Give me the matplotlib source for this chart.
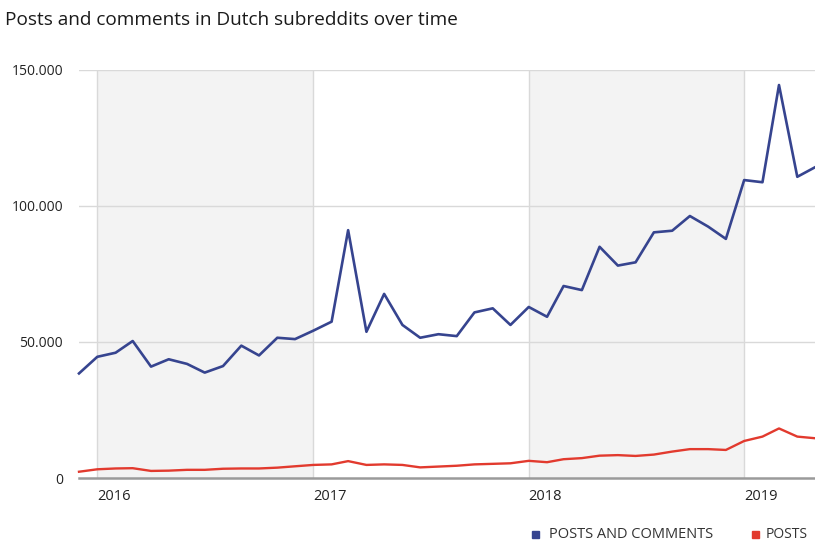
import numpy as np
import pandas as pd
import matplotlib
matplotlib.use("Agg")
import matplotlib.pyplot as plt
import matplotlib.transforms as mtransforms

plt.rcParams['font.family'] = ['Open Sans', 'DejaVu Sans']

# maandelijkse data, dec 2015 t/m mei 2019
months = pd.date_range("2015-12-01", "2019-05-01", freq="MS")

posts_and_comments = [
    38400, 44500, 46000, 50300, 40900, 43600, 41900, 38700, 41100, 48600, 45000, 51500,
    51000, 54100, 57400, 91000, 53700, 67600, 56200, 51500, 52800, 52100, 60800, 62300,
    56200, 62800, 59200, 70500, 69000, 84900, 78000, 79200, 90200, 90800, 96200, 92300,
    87800, 109400, 108600, 144300, 110600, 114100,
]
posts = [
    2300, 3200, 3500, 3600, 2600, 2700, 3000, 3000, 3400, 3500, 3500, 3800,
    4300, 4800, 5000, 6200, 4800, 5000, 4800, 3900, 4200, 4500, 5000, 5200,
    5400, 6300, 5800, 6900, 7300, 8200, 8400, 8100, 8600, 9700, 10600, 10600,
    10300, 13600, 15200, 18200, 15200, 14600,
]
years = [2016, 2017, 2018, 2019]
y_ticks = [0, 50000, 100000, 150000]
y_labels = ["0", "50.000", "100.000", "150.000"]

blue = "#36448f"
red = "#e23a2e"

fig = plt.figure(figsize=(8.15, 5.47), dpi=100)
ax = fig.add_axes([79 / 815, 1 - 478 / 547, 736 / 815, 408.5 / 547])

# grijze banden voor 2016 en 2018
for y in [2016, 2018]:
    ax.axvspan(pd.Timestamp(f"{y}-01-01"), pd.Timestamp(f"{y + 1}-01-01"),
               color="#f3f3f3", zorder=0, lw=0)

for y in years:
    ax.axvline(pd.Timestamp(f"{y}-01-01"), color="#d9d9d9", lw=1, zorder=1)
for v in y_ticks[1:]:
    ax.axhline(v, color="#d9d9d9", lw=1, zorder=1)
ax.axhline(0, color="#9a9a9a", lw=1.8, zorder=3, clip_on=False)

ax.plot(months, posts_and_comments, color=blue, lw=1.9, zorder=4, clip_on=False)
ax.plot(months, posts, color=red, lw=1.7, zorder=4, clip_on=False)

ax.set_xlim(months[0], months[-1])
ax.set_ylim(0, 150000)
ax.set_yticks(y_ticks)
ax.set_yticklabels(y_labels, fontsize=10, color="#222222")
ax.set_xticks([pd.Timestamp(f"{y}-01-01") for y in years])
ax.set_xticklabels([str(y) for y in years], fontsize=10.5, color="#222222")
offset = mtransforms.ScaledTranslation(1 / 100, 0, fig.dpi_scale_trans)
for lbl in ax.get_xticklabels():
    lbl.set_ha("left")
    lbl.set_transform(lbl.get_transform() + offset)
ax.tick_params(axis="both", length=0)
ax.tick_params(axis="y", pad=11.5)
ax.tick_params(axis="x", pad=8)
for s in ax.spines.values():
    s.set_visible(False)

fig.text(5 / 815, 1 - 20 / 547, "Posts and comments in Dutch subreddits over time",
         fontsize=13.7, color="#1a1a1a", va="center", ha="left")

# legenda (rechts afgesneden in het origineel)
ly = 1 - 534 / 547
fig.patches.append(plt.Rectangle((532 / 815, ly - 3.5 / 547), 7 / 815, 7 / 547,
                                 transform=fig.transFigure, color=blue))
fig.text(549 / 815, ly, "POSTS AND COMMENTS", fontsize=10.5, color="#333333",
         va="center", ha="left")
fig.patches.append(plt.Rectangle((752 / 815, ly - 3.5 / 547), 7 / 815, 7 / 547,
                                 transform=fig.transFigure, color=red))
fig.text(766 / 815, ly, "POSTS", fontsize=10, color="#333333",
         va="center", ha="left")

fig.savefig("out.png", dpi=100)
